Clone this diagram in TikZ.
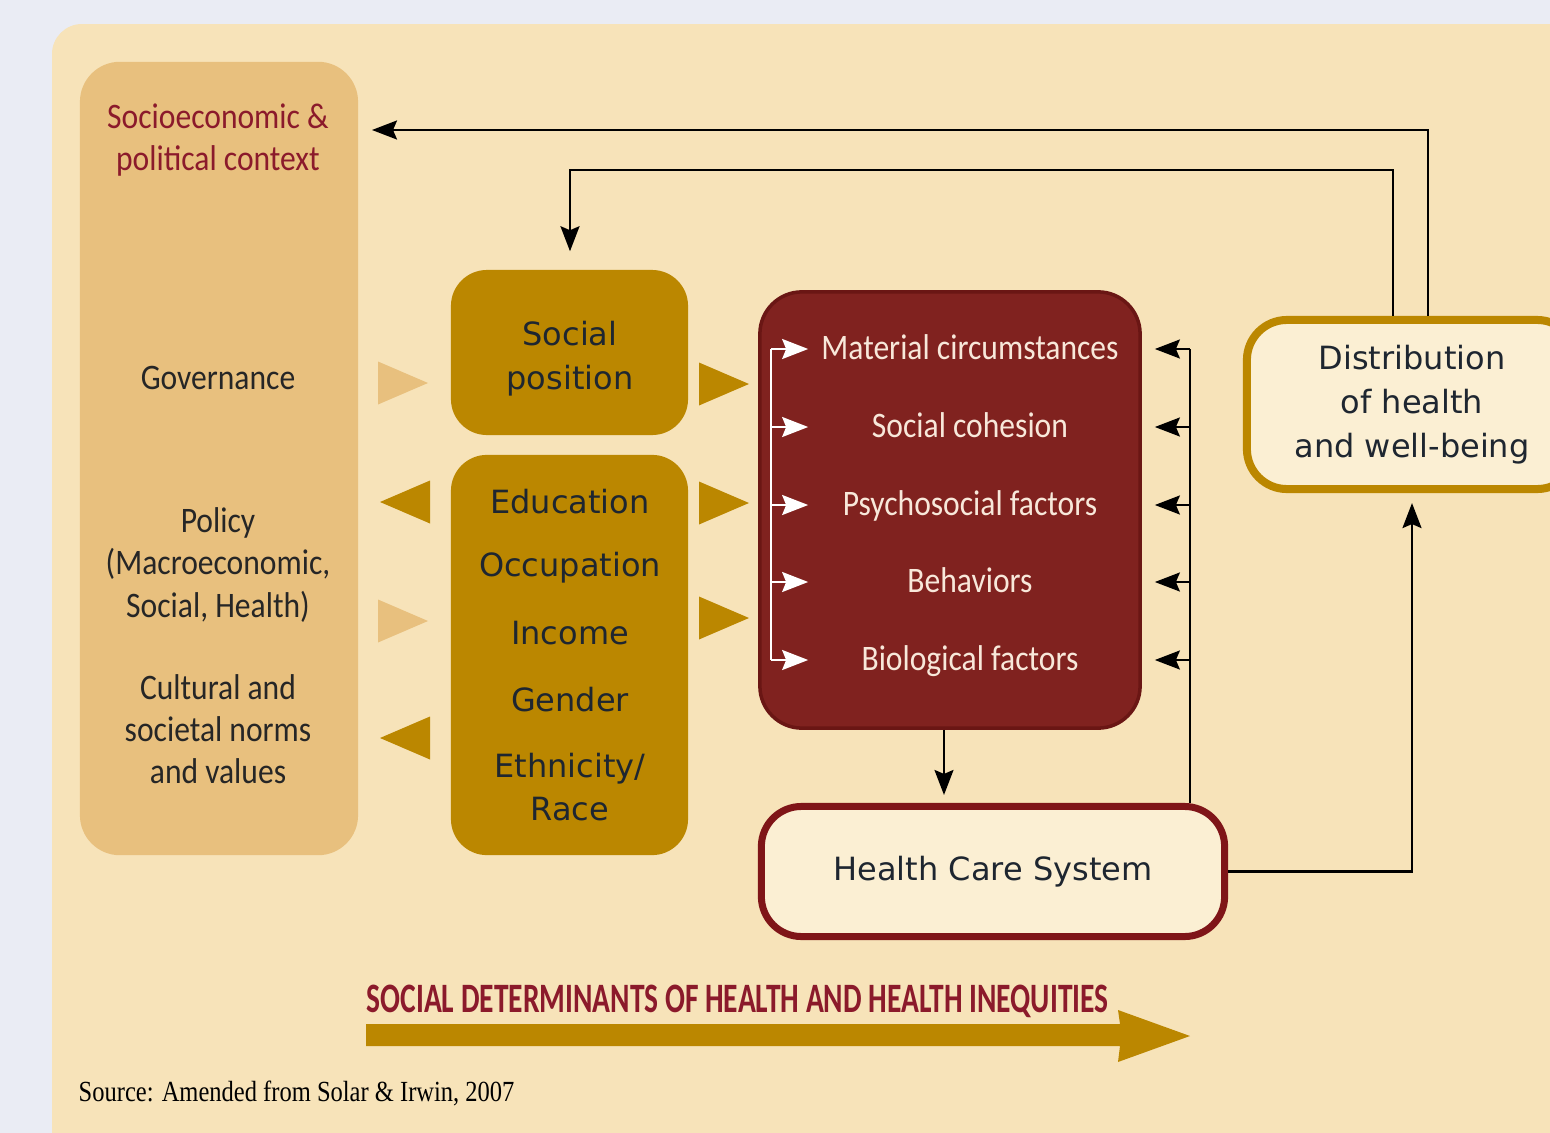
\documentclass[tikz,border=0pt]{standalone}
\usepackage{fontspec}
\setmainfont{DejaVu Sans}
\newfontfamily\condfont[FakeStretch=0.88]{Carlito}
\newfontfamily\headfont[FakeStretch=0.705]{Carlito}
\newfontfamily\srcfont[FakeStretch=0.84]{Liberation Serif}
\usetikzlibrary{calc, positioning, arrows.meta}

\definecolor{pagebg}{HTML}{EAECF4}
\definecolor{panel}{HTML}{F7E3B9}
\definecolor{ctxfill}{HTML}{E8C07E}
\definecolor{gold}{HTML}{BB8700}
\definecolor{detred}{HTML}{80221F}
\definecolor{detedge}{HTML}{6A1614}
\definecolor{hcsred}{HTML}{7F1518}
\definecolor{cream}{HTML}{FBEFD3}
\definecolor{titlered}{HTML}{8B1A2B}
\definecolor{inkdark}{HTML}{1E2630}
\definecolor{factorink}{HTML}{F8E8DA}

\begin{document}
\begin{tikzpicture}[x=0.01cm, y=-0.01cm, >=Stealth, every node/.style={font=\fontsize{9.1}{12.5}\selectfont, text=inkdark}]
  \tikzset{
    ctxbox/.style={fill=ctxfill, rounded corners=0.4cm, inner sep=0pt},
    ctxtext/.style={align=center, font=\condfont\fontsize{10.2}{12}\selectfont, text=black!85},
    goldbox/.style={fill=gold, rounded corners=0.36cm, align=center, inner sep=0pt},
    detbox/.style={fill=detred, draw=detedge, line width=1pt, rounded corners=0.42cm, inner sep=0pt},
    factor/.style={font=\condfont\fontsize{10.2}{12}\selectfont, text=factorink, text height=1.55ex, text depth=0.45ex},
    hcsbox/.style={fill=cream, draw=hcsred, line width=0.07cm, rounded corners=0.4cm, align=center},
    distbox/.style={fill=cream, draw=gold, line width=0.08cm, rounded corners=0.4cm, align=center},
    conn/.style={draw=black, line width=0.6pt, -{Stealth[length=0.25cm, width=0.19cm, inset=0.04cm]}},
    line/.style={draw=black, line width=0.6pt},
    wline/.style={draw=white, line width=0.6pt},
    warrow/.style={draw=white, line width=0.6pt, -{Stealth[length=0.26cm, width=0.2cm, inset=0.04cm]}},
    wedge/.pic={\fill[pic actions] (-25,-21.5) -- (25,0) -- (-25,21.5) -- cycle;}
  }
  \clip (0,0) rectangle (1550,1133);
  \fill[pagebg] (0,0) rectangle (1550,1133);
  \fill[panel, rounded corners=0.3cm] (52,24) rectangle (1640,1200);

  % context column
  \node[ctxbox, minimum width=2.78cm, minimum height=7.93cm] (ctx) at (219,458.5) {};
  \node[ctxtext, text=titlered] (ctxtitle) at (218,140) {Socioeconomic \&\\political context};
  \node[ctxtext] (gov) at (218,378) {Governance};
  \node[ctxtext] (pol) at (218,565) {Policy\\(Macroeconomic,\\Social, Health)};
  \node[ctxtext] (cul) at (218,729) {Cultural and\\societal norms\\and values};

  % socioeconomic position
  \node[goldbox, minimum width=2.37cm, minimum height=1.65cm] (sp) at (569.5,352.5) {};
  \node[align=center] (sptext) at (570,359) {Social\\position};
  \node[goldbox, minimum width=2.37cm, minimum height=4cm] (ses) at (569.5,655) {};
  \foreach \n/\y/\t in {edu/502/Education, occ/568/Occupation, inc/633/Income, gen/700/Gender}
    \node (\n) at (570,\y) {\t};
  \node[align=center, font=\fontsize{9.1}{12.2}\selectfont] (eth) at (570,787) {Ethnicity/\\Race};

  % wedges between the columns
  \pic[fill=ctxfill] at (403,383) {wedge};
  \pic[fill=ctxfill] at (403,621) {wedge};
  \pic[fill=gold, xscale=-1] at (405,502) {wedge};
  \pic[fill=gold, xscale=-1] at (405,738) {wedge};
  \foreach \y in {384,503,618}
    \pic[fill=gold] at (724,\y) {wedge};

  % intermediary determinants
  \node[detbox, minimum width=3.80cm, minimum height=4.36cm] (det) at (950,510) {};
  \foreach \n/\y/\t in {mat/349/Material circumstances, coh/427/Social cohesion, psy/505/Psychosocial factors, beh/582/Behaviors, bio/660/Biological factors}
    \node[factor] (\n) at (970,\y) {\t};

  \node[hcsbox, minimum width=4.63cm, minimum height=1.30cm] (hcs) at (993,871.5) {Health Care System};
  \node[distbox, minimum width=3.30cm, minimum height=1.69cm] (dist) at (1412,404.5) {Distribution\\of health\\and well-being};

  % feedback loops
  \coordinate (ctxin) at (372,130);
  \coordinate (sptop) at (570,170);
  \draw[conn] ([xshift=0.16cm]dist.north) |- (ctxin);
  \draw[conn, shorten >=0.18cm] ([xshift=-0.19cm]dist.north) |- (sptop) -- (sptop |- sp.north);

  \coordinate (detout) at ([xshift=-0.06cm]det.south);
  \draw[conn, shorten >=0.08cm] (detout) -- (detout |- hcs.north);

  \coordinate (bus) at ([xshift=1.97cm]hcs.north);
  \draw[line] (bus) -- (bus |- mat);
  \foreach \n in {mat,coh,psy,beh,bio}
    \draw[conn, shorten >=0.13cm] (bus |- \n) -- (det.east |- \n);
  \draw[conn, shorten >=0.1cm] (hcs.east) -| (dist.south);

  % white arrows inside
  \coordinate (wbus) at ([xshift=0.13cm]det.west);
  \coordinate (wtip) at ([xshift=0.5cm]det.west);
  \draw[wline] (wbus |- mat) -- (wbus |- bio);
  \foreach \n in {mat,coh,psy,beh,bio}
    \draw[warrow] (wbus |- \n) -- (wtip |- \n);

  % big arrow and source
  \fill[gold] (366,1024) -- (1120,1024) -- (1118,1010) -- (1190,1036) -- (1118,1062) -- (1120,1046) -- (366,1046) -- cycle;
  \node[anchor=west, inner sep=0pt, text=titlered, font=\headfont\bfseries\fontsize{11.9}{13}\selectfont] (sdh) at (366,1001) {SOCIAL DETERMINANTS OF HEALTH AND HEALTH INEQUITIES};
  \node[anchor=west, inner sep=0pt, text=black, font=\srcfont\fontsize{8.3}{10}\selectfont] (src) at (78,1093) {Source: Amended from Solar \& Irwin, 2007};
\end{tikzpicture}
\end{document}
